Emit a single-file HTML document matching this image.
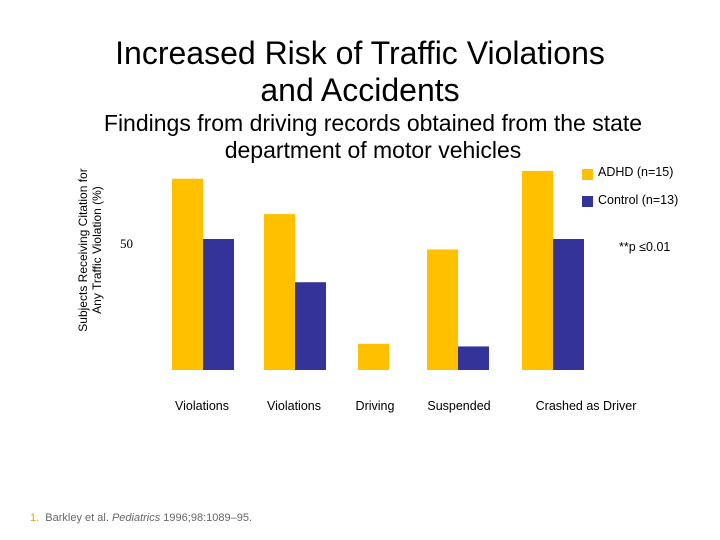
<!DOCTYPE html>
<html><head><meta charset="utf-8"><style>
body{margin:0;width:720px;height:540px;background:#fff;position:relative;overflow:hidden;font-family:"Liberation Sans",sans-serif}
.t{position:absolute;white-space:nowrap}
</style></head><body>
<div class="t" style="left:0;width:720px;top:35px;text-align:center;font-size:32px;line-height:37px;color:#000">Increased Risk of Traffic Violations<br>and Accidents</div>
<div class="t" style="left:0;width:746px;top:110px;text-align:center;font-size:23px;line-height:27px">Findings from driving records obtained from the state<br>department of motor vehicles</div>
<div class="t" style="left:90px;top:250px;transform:translate(-50%,-50%) rotate(-90deg);font-size:12px;line-height:14px;text-align:center">Subjects Receiving Citation for<br>Any Traffic Violation (%)</div>
<svg id="c" width="720" height="540" style="position:absolute;left:0;top:0"></svg>
<div class="t" style="left:30px;top:512px;font-size:11px;color:#666"><span style="color:#e0a800">1.</span>&nbsp; Barkley et al. <i>Pediatrics</i> 1996;98:1089–95.</div>
<script>
const categories=["Violations","Violations","Driving","Suspended","Crashed as Driver"];
const adhd=[73,59.5,10,46,76];
const control=[50,33.5,null,9,50];
const yTicks=[50];
const svg=document.getElementById('c');
const NS='http://www.w3.org/2000/svg';
const base=370,ppu=2.62;
const y=v=>base-v*ppu;
const centers=[203,295,389,458,553];
const labelX=[202,294,375,459,586];
const bw=31;
function mk(t,a){const e=document.createElementNS(NS,t);for(const k in a)e.setAttribute(k,a[k]);svg.appendChild(e);return e;}
categories.forEach((c,i)=>{
  const r=mk('rect',{x:centers[i]-bw,y:y(adhd[i]),width:bw,height:adhd[i]*ppu,fill:'#FFC000'});
  
  
  if(control[i]!=null){
    const b=mk('rect',{x:centers[i],y:y(control[i]),width:bw,height:control[i]*ppu,fill:'#333399'});
    
    
  }
  const t=mk('text',{x:labelX[i],y:410,'text-anchor':'middle','font-size':12.5,'font-family':'Liberation Sans, sans-serif'});
  t.textContent=c;
  
  
});
yTicks.forEach(v=>{
  const t=mk('text',{x:120,y:y(v)+9,'font-size':13,'font-family':'Liberation Serif, serif'});
  t.textContent=v;
  
  
});
</script>
<div>
<div style="position:absolute;left:582px;top:169px;width:11px;height:11px;background:#FFC000"></div>
<div class="t" style="left:598px;top:165px;font-size:12.5px">ADHD (n=15)</div>
<div style="position:absolute;left:582px;top:196px;width:11px;height:11px;background:#333399"></div>
<div class="t" style="left:598px;top:193px;font-size:12.5px">Control (n=13)</div>
</div>
<div class="t" style="left:619px;top:240px;font-size:12.5px">**p ≤0.01</div>
</body></html>
